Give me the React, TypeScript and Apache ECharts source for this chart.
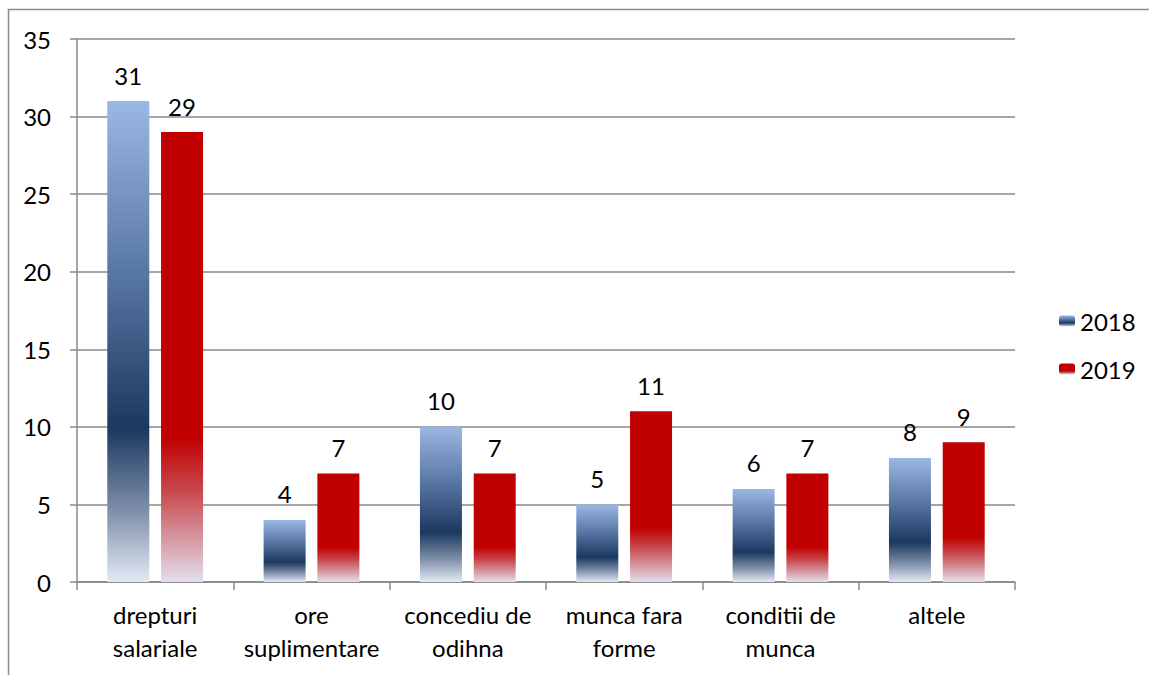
import React, { useEffect, useRef } from "react";
import * as echarts from "echarts";

const categories = [
  "drepturi\nsalariale",
  "ore\nsuplimentare",
  "concediu de\nodihna",
  "munca fara\nforme",
  "conditii de\nmunca",
  "altele",
];
const seriesNames = ["2018", "2019"];
const values2018 = [31, 4, 10, 5, 6, 8];
const values2019 = [29, 7, 7, 11, 7, 9];
const yTicks = { min: 0, max: 35, interval: 5 };

const FONT = "Lato, 'Open Sans', 'Liberation Sans', sans-serif";

const blueGrad = new echarts.graphic.LinearGradient(0, 0, 0, 1, [
  { offset: 0, color: "#9bb7e3" },
  { offset: 0.35, color: "#5a78a6" },
  { offset: 0.68, color: "#1c385f" },
  { offset: 0.85, color: "#7d8ea8" },
  { offset: 1, color: "#e2e9f5" },
]);
const redGrad = new echarts.graphic.LinearGradient(0, 0, 0, 1, [
  { offset: 0, color: "#c00000" },
  { offset: 0.68, color: "#c00000" },
  { offset: 0.8, color: "#c84a4f" },
  { offset: 1, color: "#e3dfec" },
]);

export default function App() {
  const ref = useRef<HTMLDivElement>(null);
  useEffect(() => {
    const chart = echarts.init(ref.current!, null, { renderer: "svg" });
    const labelCfg = {
      show: true,
      position: "top",
      distance: 14,
      color: "#000",
      fontSize: 24,
      fontFamily: FONT,
    };
    chart.setOption({
      animation: false,
      backgroundColor: "#fff",
      textStyle: { fontFamily: FONT },
      graphic: [
        {
          type: "rect",
          shape: { x: 8.5, y: 9.5, width: 1300, height: 800 },
          style: { fill: "none", stroke: "#8c8c8c", lineWidth: 1.5 },
          silent: true,
        },
      ],
      grid: { left: 77, right: 134, top: 39, bottom: 93 },
      legend: {
        orient: "vertical",
        left: 1054,
        top: 304,
        itemWidth: 16,
        itemHeight: 11,
        itemGap: 24,
        data: seriesNames,
        textStyle: { fontSize: 24, color: "#000", fontFamily: FONT, padding: [0, 0, 0, 0] },
      },
      xAxis: {
        type: "category",
        data: categories,
        axisLine: { lineStyle: { color: "#888", width: 1.5 } },
        axisTick: { show: true, length: 8, lineStyle: { color: "#888", width: 1.5 } },
        axisLabel: {
          color: "#000",
          fontSize: 24,
          fontFamily: FONT,
          lineHeight: 33,
          margin: 16,
          interval: 0,
        },
      },
      yAxis: {
        type: "value",
        min: yTicks.min,
        max: yTicks.max,
        interval: yTicks.interval,
        axisLine: { show: true, lineStyle: { color: "#888", width: 1.5 } },
        axisTick: { show: true, length: 7, lineStyle: { color: "#888", width: 1.5 } },
        splitLine: { lineStyle: { color: "#888", width: 1.5 } },
        axisLabel: { color: "#000", fontSize: 24, fontFamily: FONT, margin: 26 },
      },
      series: [
        {
          name: seriesNames[0],
          type: "bar",
          data: values2018,
          barWidth: 42,
          barGap: "28%",
          itemStyle: { color: blueGrad },
          label: labelCfg,
        },
        {
          name: seriesNames[1],
          type: "bar",
          data: values2019,
          barWidth: 42,
          barGap: "28%",
          itemStyle: { color: redGrad },
          label: labelCfg,
        },
      ],
    });
    return () => chart.dispose();
  }, []);
  return (
    <div
      ref={ref}
      style={{ position: "absolute", left: 0, top: 0, width: 1149, height: 675 }}
    />
  );
}
